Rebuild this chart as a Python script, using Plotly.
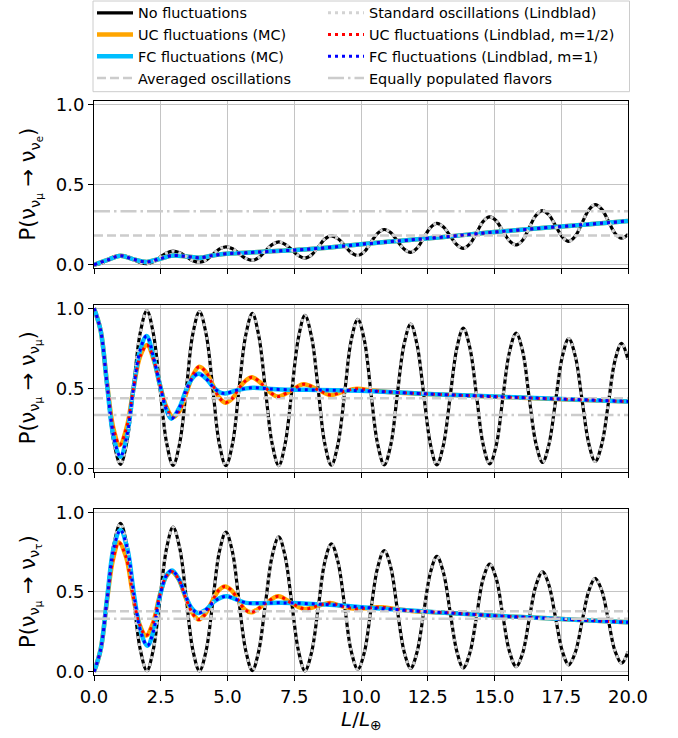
import plotly.graph_objects as go
from plotly.subplots import make_subplots

# ---------------- data ----------------
# L/L_earth sample positions for the "no fluctuation" oscillation curves
XB = [0, 0.25, 0.49, 0.74, 0.99, 1.23, 1.48, 1.73, 1.98, 2.22, 2.47, 2.72, 2.96, 3.21,
      3.46, 3.70, 3.95, 4.20, 4.45, 4.69, 4.94, 5.19, 5.43, 5.68, 5.93, 6.17, 6.42, 6.67,
      6.92, 7.16, 7.41, 7.66, 7.90, 8.15, 8.40, 8.64, 8.89, 9.14, 9.39, 9.63, 9.88, 10.13,
      10.37, 10.62, 10.87, 11.12, 11.36, 11.61, 11.86, 12.10, 12.35, 12.60, 12.84, 13.09,
      13.34, 13.59, 13.83, 14.08, 14.33, 14.57, 14.82, 15.07, 15.31, 15.56, 15.81, 16.06,
      16.30, 16.55, 16.80, 17.04, 17.29, 17.54, 17.78, 18.03, 18.28, 18.53, 18.77, 19.02,
      19.27, 19.51, 19.76, 20.0]

# P(numu -> nue), no fluctuations
P_E_NOFLUCT = [0,
    0.008, 0.029, 0.050, 0.058, 0.051, 0.033, 0.015, 0.008,
    0.019, 0.047, 0.074, 0.085, 0.075, 0.051, 0.026, 0.016,
    0.030, 0.064, 0.098, 0.112, 0.100, 0.070, 0.040, 0.028,
    0.045, 0.086, 0.126, 0.143, 0.128, 0.093, 0.057, 0.042,
    0.062, 0.111, 0.160, 0.180, 0.162, 0.119, 0.076, 0.058,
    0.082, 0.139, 0.196, 0.220, 0.199, 0.149, 0.099, 0.078,
    0.104, 0.168, 0.232, 0.258, 0.235, 0.180, 0.125, 0.102,
    0.131, 0.200, 0.269, 0.298, 0.273, 0.211, 0.149, 0.124,
    0.155, 0.231, 0.307, 0.338, 0.310, 0.242, 0.174, 0.146,
    0.179, 0.261, 0.342, 0.375, 0.345, 0.271, 0.197, 0.166,
    0.19]

# P(numu -> numu), no fluctuations
P_MU_NOFLUCT = [1.0,
    0.858, 0.513, 0.167, 0.025, 0.165, 0.505, 0.845, 0.985,
    0.844, 0.502, 0.159, 0.018, 0.158, 0.498, 0.838, 0.978,
    0.838, 0.497, 0.156, 0.016, 0.155, 0.492, 0.829, 0.968,
    0.829, 0.493, 0.156, 0.017, 0.154, 0.486, 0.818, 0.955,
    0.819, 0.488, 0.157, 0.020, 0.153, 0.475, 0.797, 0.930,
    0.797, 0.476, 0.155, 0.022, 0.150, 0.461, 0.772, 0.900,
    0.772, 0.461, 0.150, 0.022, 0.147, 0.449, 0.751, 0.875,
    0.751, 0.452, 0.152, 0.028, 0.147, 0.437, 0.726, 0.845,
    0.727, 0.441, 0.155, 0.037, 0.150, 0.424, 0.697, 0.810,
    0.698, 0.427, 0.155, 0.043, 0.151, 0.412, 0.672, 0.780,
    0.68]

# P(numu -> nutau), no fluctuations
P_TAU_NOFLUCT = [0,
    0.136, 0.465, 0.794, 0.930, 0.795, 0.469, 0.142, 0.007,
    0.138, 0.457, 0.775, 0.906, 0.775, 0.456, 0.137, 0.006,
    0.133, 0.441, 0.748, 0.875, 0.748, 0.442, 0.135, 0.008,
    0.130, 0.427, 0.723, 0.845, 0.723, 0.426, 0.129, 0.006,
    0.122, 0.404, 0.686, 0.802, 0.687, 0.409, 0.131, 0.016,
    0.125, 0.388, 0.651, 0.760, 0.652, 0.391, 0.130, 0.022,
    0.124, 0.373, 0.621, 0.723, 0.621, 0.374, 0.127, 0.025,
    0.120, 0.350, 0.580, 0.675, 0.581, 0.354, 0.127, 0.033,
    0.120, 0.330, 0.540, 0.627, 0.542, 0.336, 0.129, 0.044,
    0.123, 0.315, 0.506, 0.585, 0.508, 0.320, 0.132, 0.054,
    0.125]

# fluctuating cases, panel 1 (UC and FC coincide)
X_E_FLUCT = [0, 0.49, 0.99, 1.48, 1.98, 2.47, 2.96, 3.46, 3.95, 4.45, 4.94, 5.5, 6, 7, 8,
             9, 10, 11, 12, 13, 14, 15, 16, 17, 18, 19, 20]
P_E_UC = [0, 0.029, 0.057, 0.034, 0.018, 0.038, 0.058, 0.052, 0.044, 0.058, 0.069, 0.073,
          0.078, 0.087, 0.097, 0.111, 0.128, 0.143, 0.157, 0.172, 0.188, 0.204, 0.218,
          0.232, 0.245, 0.259, 0.273]
P_E_FC = [0, 0.029, 0.057, 0.034, 0.018, 0.038, 0.058, 0.052, 0.044, 0.058, 0.069, 0.073,
          0.078, 0.087, 0.097, 0.111, 0.128, 0.143, 0.157, 0.172, 0.188, 0.204, 0.218,
          0.232, 0.245, 0.259, 0.273]

# panel 2, uncorrelated (UC) fluctuations
X_MU_UC = [0, 0.25, 0.49, 0.74, 0.96, 1.23, 1.48, 1.73, 1.99, 2.25, 2.47, 2.72, 2.96, 3.21,
           3.46, 3.70, 3.94, 4.20, 4.45, 4.70, 4.92, 5.20, 5.43, 5.70, 5.92, 6.20, 6.42,
           6.67, 6.90, 7.40, 7.85, 8.40, 8.85, 9.35, 9.85, 10.40, 11, 12, 13, 14, 15, 16,
           17, 18, 19, 20]
P_MU_UC = [1.0, 0.86, 0.53, 0.24, 0.146, 0.26, 0.50, 0.70, 0.77, 0.67, 0.52, 0.38, 0.32,
           0.36, 0.47, 0.58, 0.635, 0.60, 0.52, 0.44, 0.41, 0.44, 0.50, 0.55, 0.569, 0.54,
           0.505, 0.465, 0.448, 0.487, 0.525, 0.49, 0.458, 0.48, 0.497, 0.486, 0.477,
           0.468, 0.461, 0.454, 0.447, 0.441, 0.435, 0.429, 0.423, 0.417]

# panel 2, fully correlated (FC) fluctuations
X_MU_FC = [0, 0.25, 0.49, 0.74, 0.99, 1.23, 1.48, 1.73, 1.97, 2.22, 2.47, 2.70, 2.90, 3.20,
           3.45, 3.70, 3.92, 4.20, 4.45, 4.70, 4.92, 5.40, 5.95, 6.50, 7, 8, 9, 10, 11, 12,
           13, 14, 15, 16, 17, 18, 19, 20]
P_MU_FC = [1.0, 0.86, 0.52, 0.19, 0.073, 0.20, 0.50, 0.74, 0.827, 0.70, 0.52, 0.37, 0.31,
           0.38, 0.49, 0.565, 0.59, 0.56, 0.51, 0.475, 0.468, 0.49, 0.503, 0.497, 0.492,
           0.490, 0.488, 0.484, 0.477, 0.469, 0.461, 0.455, 0.448, 0.442, 0.436, 0.430,
           0.424, 0.418]

# panel 3, UC fluctuations
X_TAU_UC = [0, 0.25, 0.49, 0.72, 0.93, 1.20, 1.45, 1.70, 1.95, 2.20, 2.45, 2.68, 2.90, 3.17,
            3.42, 3.68, 3.93, 4.20, 4.42, 4.67, 4.90, 5.15, 5.40, 5.65, 5.90, 6.40, 6.90,
            7.40, 7.90, 8.40, 8.84, 9.30, 9.80, 10.30, 10.75, 11.30, 12, 13, 14, 15, 16, 17,
            18, 19, 20]
P_TAU_UC = [0, 0.14, 0.45, 0.71, 0.81, 0.72, 0.49, 0.30, 0.227, 0.30, 0.47, 0.59, 0.629,
            0.58, 0.47, 0.37, 0.327, 0.37, 0.44, 0.51, 0.535, 0.51, 0.45, 0.39, 0.373, 0.425,
            0.473, 0.43, 0.394, 0.415, 0.431, 0.41, 0.395, 0.40, 0.405, 0.393, 0.380, 0.372,
            0.362, 0.351, 0.343, 0.335, 0.326, 0.318, 0.310]

# panel 3, FC fluctuations
X_TAU_FC = [0, 0.25, 0.49, 0.74, 0.99, 1.25, 1.50, 1.75, 2.00, 2.22, 2.45, 2.70, 2.92, 3.18,
            3.42, 3.65, 3.88, 4.20, 4.50, 4.75, 4.98, 5.30, 5.70, 6.20, 7, 8, 9, 10, 11, 12,
            13, 14, 15, 16, 17, 18, 19, 20]
P_TAU_FC = [0, 0.14, 0.46, 0.78, 0.889, 0.77, 0.48, 0.25, 0.164, 0.25, 0.46, 0.60, 0.635,
            0.58, 0.48, 0.40, 0.369, 0.39, 0.44, 0.465, 0.473, 0.455, 0.432, 0.430, 0.432,
            0.427, 0.418, 0.405, 0.393, 0.382, 0.372, 0.362, 0.351, 0.343, 0.335, 0.326,
            0.318, 0.310]

# horizontal reference levels per panel
AVERAGED = [0.183, 0.4375, 0.38]
EQUAL = [0.333, 0.333, 0.333]

Y_TITLES = ["P(ν<sub>ν<sub>μ</sub></sub> → ν<sub>ν<sub>e</sub></sub>)",
            "P(ν<sub>ν<sub>μ</sub></sub> → ν<sub>ν<sub>μ</sub></sub>)",
            "P(ν<sub>ν<sub>μ</sub></sub> → ν<sub>ν<sub>τ</sub></sub>)"]
X_TITLE = "<i>L</i>/<i>L</i><sub>⊕</sub>"
X_TICKS = [0, 2.5, 5, 7.5, 10, 12.5, 15, 17.5, 20]
Y_TICKS = [0, 0.5, 1.0]

# ---------------- figure ----------------
FONT = "DejaVu Sans"
W, H = 678, 738
ML, MR, MT, MB = 94, 50, 101, 63
PW, PH = W - ML - MR, H - MT - MB

fig = make_subplots(rows=3, cols=1, shared_xaxes=True)

panels = [
    (P_E_NOFLUCT, X_E_FLUCT, P_E_UC, X_E_FLUCT, P_E_FC),
    (P_MU_NOFLUCT, X_MU_UC, P_MU_UC, X_MU_FC, P_MU_FC),
    (P_TAU_NOFLUCT, X_TAU_UC, P_TAU_UC, X_TAU_FC, P_TAU_FC),
]
xr = [XB[0], XB[-1]]

for i, (pn, xuc, puc, xfc, pfc) in enumerate(panels):
    r = i + 1
    sl = (i == 0)
    common = dict(mode="lines", showlegend=sl, hoverinfo="skip")
    fig.add_trace(go.Scatter(x=XB, y=pn, name="No fluctuations", legend="legend",
                             legendrank=1,
                             line=dict(color="black", width=3.2, shape="spline", smoothing=1),
                             **common), row=r, col=1)
    fig.add_trace(go.Scatter(x=xuc, y=puc, name="UC fluctuations (MC)", legend="legend",
                             legendrank=2,
                             line=dict(color="#FFA500", width=4.5, shape="spline", smoothing=1),
                             **common), row=r, col=1)
    fig.add_trace(go.Scatter(x=xfc, y=pfc, name="FC fluctuations (MC)", legend="legend",
                             legendrank=3,
                             line=dict(color="#00BFFF", width=4.5, shape="spline", smoothing=1),
                             **common), row=r, col=1)
    fig.add_trace(go.Scatter(x=xr, y=[AVERAGED[i]] * 2, name="Averaged oscillations",
                             legend="legend", legendrank=4,
                             line=dict(color="#cccccc", width=2.5, dash="9px,4px"),
                             **common), row=r, col=1)
    fig.add_trace(go.Scatter(x=XB, y=pn, name="Standard oscillations (Lindblad)",
                             legend="legend2", legendrank=1,
                             line=dict(color="#d3d3d3", width=3, dash="3px,4px",
                                       shape="spline", smoothing=1),
                             **common), row=r, col=1)
    fig.add_trace(go.Scatter(x=xuc, y=puc, name="UC fluctuations (Lindblad, m=1/2)",
                             legend="legend2", legendrank=2,
                             line=dict(color="#ff0000", width=3, dash="3px,4px",
                                       shape="spline", smoothing=1),
                             **common), row=r, col=1)
    fig.add_trace(go.Scatter(x=xfc, y=pfc, name="FC fluctuations (Lindblad, m=1)",
                             legend="legend2", legendrank=3,
                             line=dict(color="#0000ff", width=3, dash="3px,4px",
                                       shape="spline", smoothing=1),
                             **common), row=r, col=1)
    fig.add_trace(go.Scatter(x=xr, y=[EQUAL[i]] * 2, name="Equally populated flavors",
                             legend="legend2", legendrank=4,
                             line=dict(color="#cccccc", width=2.5, dash="16px,4px,2.5px,4px"),
                             **common), row=r, col=1)

domains = [[0.709, 1.0], [0.3545, 0.6446], [0.0, 0.2892]]
annotations = []
for i in range(3):
    r = i + 1
    fig.update_yaxes(row=r, col=1, domain=domains[i], range=[-0.02, 1.02],
                     tickvals=Y_TICKS, tickformat=".1f",
                     tickfont=dict(family=FONT, size=18, color="black"),
                     showline=True, mirror=True, linecolor="black", linewidth=1,
                     ticks="outside", ticklen=5, tickwidth=1, tickcolor="black",
                     showgrid=True, gridcolor="#c4c4c4", gridwidth=1, zeroline=False,
                     automargin=False)
    fig.update_xaxes(row=r, col=1, range=[0, 20], tickvals=X_TICKS, tickformat=".1f",
                     tickfont=dict(family=FONT, size=18, color="black"),
                     showline=True, mirror=True, linecolor="black", linewidth=1,
                     ticks="outside", ticklen=5, tickwidth=1, tickcolor="black",
                     showgrid=True, gridcolor="#c4c4c4", gridwidth=1, zeroline=False,
                     automargin=False)
    annotations.append(dict(text=Y_TITLES[i], xref="paper", yref="paper",
                            x=(30 - ML) / PW, y=sum(domains[i]) / 2,
                            xanchor="center", yanchor="middle", textangle=-90,
                            showarrow=False,
                            font=dict(family=FONT, size=21, color="black")))

annotations.append(dict(text=X_TITLE, xref="paper", yref="paper",
                        x=0.5, y=-(720 - (H - MB)) / PH, xanchor="center", yanchor="middle",
                        showarrow=False, font=dict(family=FONT, size=20, color="black")))

leg_common = dict(orientation="v", xanchor="left", yanchor="top",
                  y=1 + (MT + 3) / PH,
                  font=dict(family=FONT, size=14.4, color="black"),
                  borderwidth=0, bgcolor="rgba(0,0,0,0)", itemwidth=36,
                  traceorder="normal")

fig.update_layout(
    width=W, height=H,
    margin=dict(l=ML, r=MR, t=MT, b=MB, autoexpand=False),
    paper_bgcolor="white", plot_bgcolor="white",
    font=dict(family=FONT, color="black"),
    legend=dict(x=(92 - ML) / PW, **leg_common),
    legend2=dict(x=(323 - ML) / PW, **leg_common),
    annotations=annotations,
    shapes=[dict(type="rect", xref="paper", yref="paper",
                 x0=(93 - ML) / PW, x1=(629.5 - ML) / PW,
                 y0=1 + (MT - 91.7) / PH, y1=1 + (MT - 1) / PH,
                 line=dict(color="#cccccc", width=1), fillcolor="rgba(0,0,0,0)",
                 layer="below")],
)

fig.write_html("out.html")
